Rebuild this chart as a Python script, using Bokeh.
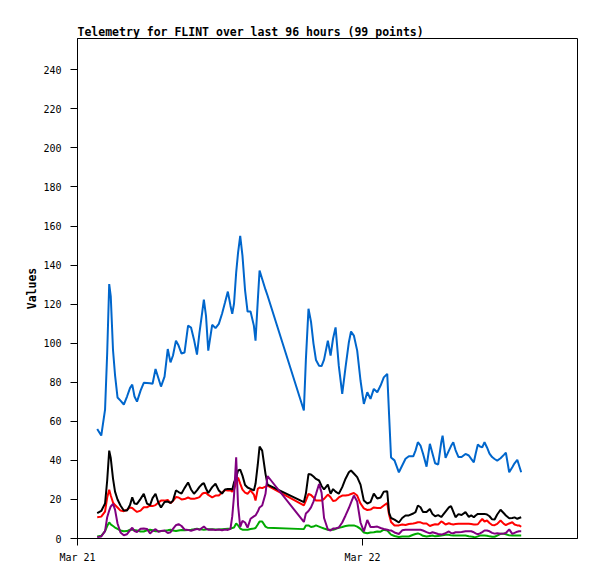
from bokeh.plotting import figure
from bokeh.models import Range1d, FixedTicker
from bokeh.embed import file_html
from bokeh.resources import INLINE

title_text = "Telemetry for FLINT over last 96 hours (99 points)"
y_label = "Values"
x_tick_hours = [0, 24]          # hours since Mar 21 00:00
x_tick_labels = ["Mar 21", "Mar 22"]
y_ticks = list(range(0, 241, 20))

# sample times, hours since Mar 21 00:00
hours = [1.66, 2.00, 2.32, 2.50, 2.67, 2.80, 2.99, 3.16, 3.37, 3.62, 3.90, 4.17, 4.42, 4.61, 4.80, 5.01,
         5.31, 5.58, 5.85, 6.11, 6.32, 6.57, 6.82, 7.03, 7.33, 7.60, 7.83, 8.04, 8.29, 8.51, 8.76, 9.01,
         9.31, 9.56, 9.81, 10.06, 10.27, 10.50, 10.64, 10.82, 11.01, 11.34, 11.62, 11.90, 12.17, 12.42, 12.66,
         12.88, 13.03, 13.18, 13.36, 13.52, 13.70, 13.89, 14.11, 14.32, 14.57, 14.85, 14.99, 15.18, 15.33,
         15.55, 15.83, 16.00,
         19.06, 19.23, 19.45, 19.66, 19.87, 20.08, 20.34, 20.55, 20.76, 21.08, 21.31, 21.52, 21.73, 22.00,
         22.29, 22.57, 22.85, 23.03, 23.27, 23.55, 23.83, 24.11, 24.40, 24.67, 24.95, 25.24, 25.52, 25.79,
         26.08, 26.23, 26.40, 26.69, 27.06,
         27.34, 27.62, 27.90, 28.27, 28.46, 28.66, 28.88, 29.09, 29.39, 29.67, 29.89, 30.11, 30.37, 30.63,
         30.74, 30.99, 31.27, 31.45, 31.64, 31.83, 32.08, 32.34, 32.67, 32.95, 33.15, 33.37, 33.52, 33.71,
         33.89, 34.08, 34.27, 34.48, 34.69, 34.91, 35.12, 35.34, 35.62, 35.90, 36.07, 36.35, 36.61, 36.80,
         37.03, 37.18, 37.36]

blue_values = [56.1, 52.7, 66, 95, 130.3, 124, 96.5, 83.7, 72.2, 70.6, 68.6, 72.7, 77, 78.8, 72.7, 70.1,
               75.7, 79.7, 79.6, 79.5, 79.2, 86.8, 81.9, 77.8, 82.9, 97, 90.2, 93.7, 101.3, 98.8, 94.7, 95.2,
               109, 108, 101.8, 94.2, 105.4, 115.8, 122.3, 114, 96.2, 109.4, 107.7, 109.9, 115.1, 120.8, 126.4,
               119.2, 115, 120.3, 136.1, 146.4, 155, 144.8, 127, 116.2, 116.2, 109, 101.3, 121.8, 137.2,
               132.9, 127.4, 124.4,
               65.5, 91.6, 117.6, 111, 99.8, 91.4, 88.5, 88.3, 91.6, 101.3, 93.7, 102.4, 108.1, 88.5,
               74, 87.7, 100.5, 106, 103.9, 96.2, 80.9, 68.9, 74.9, 71.5, 76.6, 74.9, 78.3, 82.5,
               84.3, 64, 41.5, 40, 33.9,
               37.4, 40.8, 42.1, 42.1, 45, 49.3, 47.6, 43.5, 36.8, 48.5, 43.5, 38.5, 37.9, 49.3,
               52.7, 41.3, 45, 47.3, 49.3, 45.3, 41.7, 41.7, 43.3, 42.5, 40.8, 39, 43.3, 48.1,
               47.1, 46.7, 49.3, 46.6, 43.5, 41.7, 40.7, 39.9, 41.1, 42.8, 43.9, 33.9, 36.5, 38.5,
               40.3, 37.4, 33.9]

black_values = [13, 14.1, 17.9, 29.7, 45, 41.2, 30.7, 24, 20, 16.9, 14.3, 14.3, 17.1, 21.1, 17.9, 17.7,
                20.3, 22.9, 17.9, 17.1, 20.7, 22.9, 18.2, 15.9, 18.7, 18.9, 18.2, 19.4, 24.6, 23.8, 23, 25.8,
                28.7, 25.1, 22.9, 24.6, 26.4, 27.9, 28.3, 25.6, 23.3, 26.3, 28, 24.6, 23, 25.1, 25.4,
                25.4, 25, 28.7, 31.2, 34.8, 35.3, 32.2, 27.4, 26.1, 25.4, 24.6, 28, 37.9, 47.1,
                45, 33.1, 27.6,
                18.6, 23, 33, 32.8, 31.7, 30.5, 29.7, 26.9, 25.1, 27.6, 22.9, 25.3, 24, 22.9,
                26.3, 30.6, 33.9, 34.8, 33.3, 31.4, 27.6, 19.4, 17.9, 18.6, 23, 20.5, 21, 24,
                24.2, 13.3, 10.5, 9.7, 8.2,
                10.5, 11.8, 11.8, 12.8, 13.5, 16.9, 16, 13.6, 13.6, 15.1, 12.5, 11.4, 12, 11,
                11.8, 13.8, 15.9, 16.6, 13.8, 10.9, 12.5, 12, 13.5, 11.1, 11.8, 10.9, 11.8, 12.6,
                12.6, 12.6, 12.6, 12.3, 11.4, 9.8, 9.7, 12.3, 14.7, 12.9, 11.8, 10.4, 10.5, 10.8,
                10.1, 10.5, 10.9]

red_values = [10.9, 11.2, 13.8, 21, 24.9, 22, 18.4, 17.1, 15.9, 14.3, 14, 14.7, 15.9, 15.6, 14.6, 13.6,
              14.3, 16, 16, 16.8, 16.6, 17.1, 18.4, 19.4, 19.4, 19.7, 18.1, 19.2, 21.2, 21, 20, 20.2,
              21, 20.3, 20.3, 20.7, 21.2, 22.9, 23.3, 23.4, 22.3, 21.1, 22, 22, 23.5, 24.8, 24.6,
              24.6, 24, 25, 28.7, 31.2, 28.1, 25, 23.5, 22.9, 24.6, 22.5, 19.4, 25.4, 26.1,
              25.8, 26.6, 27.1,
              16.9, 19.4, 22.8, 22.3, 21, 19.4, 19.4, 19.4, 20.3, 22.5, 21.1, 19.2, 19.4, 21,
              22, 22, 22.3, 22.8, 23.3, 22, 17.9, 15.4, 14.6, 14.8, 15.9, 15.6, 15.6, 16.9,
              18.1, 12.3, 8.4, 6.7, 6.7,
              7.2, 6.9, 7.4, 7.7, 7.9, 8.3, 8.3, 7.7, 7.7, 6.4, 6.9, 7.3, 7.2, 8.7,
              8.4, 7.2, 7.8, 7.4, 7.2, 7.4, 7.5, 7.5, 7.5, 7.5, 7.4, 7.2, 7.2, 7.3,
              8.7, 10, 8.7, 9.2, 7.9, 6.9, 6.8, 7.5, 9.2, 7.5, 6.9, 7.7, 8.3, 7.2,
              6.7, 6.7, 6]

purple_values = [0.7, 1, 3.8, 10.9, 14.3, 16.4, 17.7, 14.8, 7.7, 3.1, 1.7, 2.2, 4.1, 5.5, 3.8, 3.3,
                 5, 5.1, 4.9, 2.6, 3.8, 4.8, 3.4, 3.8, 4.1, 2.8, 3.2, 4.9, 6.8, 7.4, 6.4, 4.6,
                 4.4, 3.9, 4.5, 4.9, 4.4, 5.5, 6.1, 5.1, 4.5, 4.6, 4.4, 4.6, 4.2, 4.6, 4.4,
                 5, 11.3, 22, 41.6, 16.9, 5.9, 9, 8.2, 5.6, 10.1, 11.3, 11.8, 13.8, 15.9,
                 16.9, 22.9, 32,
                 8.5, 12.8, 14.1, 15.9, 18.9, 22.8, 27.9, 23.5, 10.5, 4.6, 4.1, 5.1, 5.1, 5.6,
                 8.2, 11.8, 15.6, 18.4, 22, 18.9, 8.2, 3.6, 9.5, 5.9, 5.9, 6.1, 5.4, 4.9,
                 4.5, 4.2, 4.1, 3.1, 2.3,
                 4.2, 4.5, 4.5, 4.5, 4.5, 4.5, 4.5, 4.1, 3.3, 2.6, 3.2, 2.8, 2.3, 2,
                 2.2, 2.7, 3.6, 2.8, 2.7, 3.2, 3.2, 3.3, 3.7, 3.7, 3.7, 3.2, 2.6, 2.2,
                 2.6, 3.3, 4.1, 4.1, 3.7, 2.9, 2.5, 2.7, 2.4, 2.6, 2.8, 4.7, 2.4, 2.9,
                 3.5, 3.7, 3.7]

green_values = [1, 1.4, 3.8, 6.4, 8.2, 7.2, 6.4, 5.6, 4.9, 4.1, 3.7, 3.8, 4.5, 4.5, 4.3, 4.1,
                3.6, 3.6, 4.2, 4.5, 4.2, 3.7, 3.7, 3.8, 4, 4.2, 4.5, 4.1, 3.8, 4.1, 4.4, 4.2,
                4.4, 4.5, 4.7, 5, 4.8, 4.6, 4.5, 4.6, 4.8, 4.8, 4.6, 4.6, 4.8, 4.9, 5,
                5, 5.4, 5.6, 7.7, 6.7, 5.1, 4.5, 4.5, 4.5, 4.9, 5.1, 5.4, 7.2, 8.7,
                8.7, 6.1, 5.5,
                4.8, 6.7, 6.7, 5.9, 6.1, 6.7, 6.1, 5.6, 5.1, 4.5, 4.5, 4.5, 4.9, 5.5,
                5.9, 6.4, 6.7, 6.7, 6.7, 6.1, 4.9, 3.1, 2.7, 3.1, 3.2, 3.6, 3.5, 4.5,
                4.1, 3.1, 2, 1.3, 0.8,
                1, 1, 1, 1.9, 2.3, 2.6, 2.1, 1.4, 1, 1.3, 1.5, 1.1, 1.3, 1.5,
                1.6, 1.9, 1.9, 1.6, 1.5, 1.5, 1.5, 1.5, 1.5, 1.2, 1, 0.8, 0.7, 1.1,
                1.5, 1.5, 1.5, 1.4, 1.1, 0.9, 0.9, 1.5, 2.4, 2.4, 2.2, 1.6, 1.5, 1.5,
                1.5, 1.5, 1.5]

p = figure(frame_width=500, frame_height=500,
           min_border_left=77, min_border_right=19, min_border_top=38, min_border_bottom=40,
           x_range=Range1d(0, 42.1), y_range=Range1d(0, 256),
           output_backend="svg", toolbar_location=None, title=title_text)

p.title.text_font = "DejaVu Sans Mono"
p.title.text_font_size = "11.5px"
p.title.text_font_style = "bold"
p.title.text_color = "black"
p.title.align = "left"
p.title.offset = 0
p.title.standoff = 0

p.grid.visible = False
p.outline_line_color = "black"
p.outline_line_alpha = 1
p.outline_line_width = 1
p.background_fill_color = "white"
p.border_fill_color = "white"

for ax in (p.xaxis[0], p.yaxis[0]):
    ax.axis_line_color = "black"
    ax.major_tick_line_color = "black"
    ax.minor_tick_line_color = None
    ax.major_tick_in = 0
    ax.major_tick_out = 7
    ax.major_label_text_font = "DejaVu Sans Mono"
    ax.major_label_text_font_size = "10px"
    ax.major_label_text_color = "black"

p.xaxis.ticker = FixedTicker(ticks=x_tick_hours)
p.xaxis.major_label_overrides = dict(zip(x_tick_hours, x_tick_labels))
p.xaxis.major_label_standoff = 6

p.yaxis.ticker = FixedTicker(ticks=y_ticks)
p.yaxis.major_label_standoff = 9
p.yaxis.axis_label = y_label
p.yaxis.axis_label_text_font = "DejaVu Sans Mono"
p.yaxis.axis_label_text_font_size = "11.5px"
p.yaxis.axis_label_text_font_style = "bold"
p.yaxis.axis_label_text_color = "black"
p.yaxis.axis_label_standoff = 1

p.line(hours, blue_values, line_color="#0066cc", line_width=2)
p.line(hours, green_values, line_color="#00aa00", line_width=2)
p.line(hours, red_values, line_color="#ff0000", line_width=2)
p.line(hours, black_values, line_color="#000000", line_width=2)
p.line(hours, purple_values, line_color="#800080", line_width=2)

open("out.html", "w").write(file_html(p, INLINE))
